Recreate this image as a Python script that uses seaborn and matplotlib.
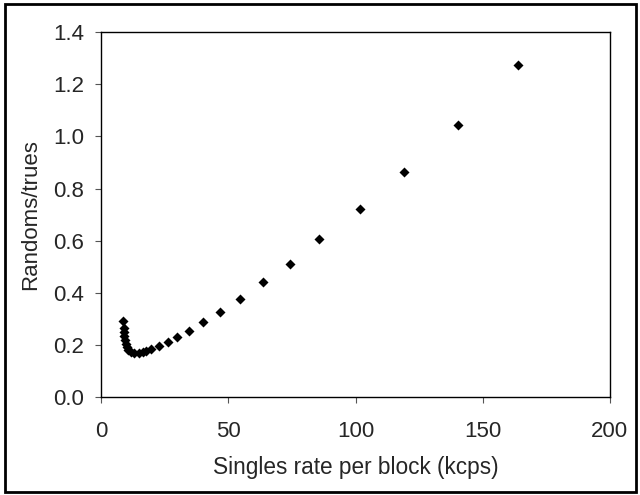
import numpy as np
import pandas as pd
import matplotlib.pyplot as plt
import matplotlib.patches as mpatches
import seaborn as sns

singles_rate = [8.5, 8.8, 8.8, 9.1, 9.4, 9.7, 10.1, 10.7, 11.7, 13.0, 14.7, 16.3,
                17.8, 19.7, 22.8, 26.1, 29.8, 34.4, 39.9, 46.7, 54.7, 63.8, 74.4,
                85.8, 101.6, 118.9, 140.2, 163.8]
randoms_trues = [0.290, 0.265, 0.249, 0.233, 0.218, 0.203, 0.190, 0.180, 0.172,
                 0.167, 0.167, 0.172, 0.177, 0.185, 0.195, 0.210, 0.231, 0.254,
                 0.287, 0.326, 0.375, 0.440, 0.512, 0.608, 0.723, 0.864, 1.044,
                 1.273]

df = pd.DataFrame({"x": singles_rate, "y": randoms_trues})

sns.set_theme(style="ticks")
plt.rcParams['font.family'] = ['Liberation Sans', 'DejaVu Sans']

fig = plt.figure(figsize=(6.4, 4.95), dpi=100)
ax = fig.add_axes([0.158, 0.198, 0.795, 0.737])

sns.scatterplot(data=df, x="x", y="y", marker="D", s=26, color="black",
                edgecolor="black", linewidth=0, ax=ax)

ax.set_xlim(0, 200)
ax.set_ylim(0, 1.4)
ax.set_xticks([0, 50, 100, 150, 200])
ax.set_yticks(np.arange(0, 1.41, 0.2))
ax.set_yticklabels([f"{v:.1f}" for v in np.arange(0, 1.41, 0.2)])
ax.tick_params(axis="both", labelsize=16, direction="out", length=4,
               width=0.8, color="#555555", pad=8)
ax.tick_params(axis="x", pad=13.5)
ax.set_xlabel("Singles rate per block (kcps)", fontsize=16.3, labelpad=10)
ax.set_ylabel("Randoms/trues", fontsize=16, labelpad=9)
for s in ax.spines.values():
    s.set_visible(True)
    s.set_color("black")
    s.set_linewidth(1.0)

# outer frame around the whole figure
fig.patches.append(mpatches.Rectangle((0.008, 0.006), 0.985, 0.985,
                                      transform=fig.transFigure, fill=False,
                                      edgecolor="black", linewidth=2.0))

fig.savefig("out.png", dpi=100)
